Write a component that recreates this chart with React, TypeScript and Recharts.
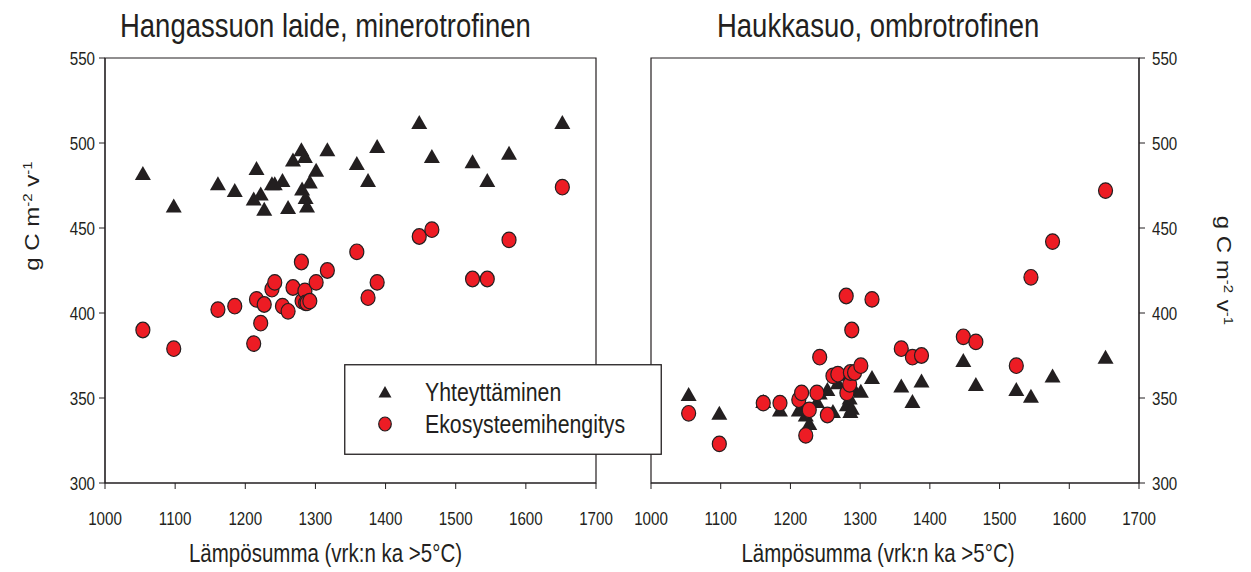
import { ScatterChart, Scatter, XAxis, YAxis, ReferenceArea, Legend } from "recharts";

// temperature sum (degree days > 5 °C), shared by both sites
const heatSum = [
  1054, 1098, 1161, 1185, 1212, 1216, 1222, 1227, 1238, 1242, 1253, 1261, 1268, 1280, 1281,
  1285, 1286, 1288, 1292, 1301, 1317, 1359, 1375, 1388, 1448, 1466, 1524, 1545, 1576, 1652,
];

// Hangassuon laide (minerotrophic)
const hangasGpp = [
  482, 463, 476, 472, 467, 485, 470, 461, 476, 476, 478, 462, 490, 496, 473,
  492, 468, 463, 477, 484, 496, 488, 478, 498, 512, 492, 489, 478, 494, 512,
];
const hangasReco = [
  390, 379, 402, 404, 382, 408, 394, 405, 414, 418, 404, 401, 415, 430, 407,
  413, 406, 406, 407, 418, 425, 436, 409, 418, 445, 449, 420, 420, 443, 474,
];

// Haukkasuo (ombrotrophic)
const haukkaGpp = [
  352, 341, 348, 343, 343, 345, 340, 335, 348, 353, 355, 342, 359, 364, 346,
  350, 342, 344, 355, 354, 362, 357, 348, 360, 372, 358, 355, 351, 363, 374,
];
const haukkaReco = [
  341, 323, 347, 347, 349, 353, 328, 343, 353, 374, 340, 363, 364, 410, 353,
  358, 365, 390, 365, 369, 408, 379, 374, 375, 386, 383, 369, 421, 442, 472,
];

const xTicks = [1000, 1100, 1200, 1300, 1400, 1500, 1600, 1700];
const yTicks = [300, 350, 400, 450, 500, 550];

const seriesNames = ["Yhteyttäminen", "Ekosysteemihengitys"];
const titles = ["Hangassuon laide, minerotrofinen", "Haukkasuo, ombrotrofinen"];
const xLabel = "Lämpösumma (vrk:n ka >5°C)";

const INK = "#231f20";
const RED = "#ed1c24";
const FONT = "'Liberation Sans', Arial, sans-serif";
const SQUEEZE = 0.82; // the original lettering is a condensed face

const toPoints = (ys: number[]) => heatSum.map((x, i) => ({ x, y: ys[i] }));

function Triangle(props: any) {
  const { cx, cy } = props;
  return <path d={`M${cx},${cy - 7.5}L${cx + 8},${cy + 6.5}L${cx - 8},${cy + 6.5}Z`} fill={INK} />;
}

function Dot(props: any) {
  return <ellipse cx={props.cx} cy={props.cy} rx={7} ry={7.8} fill={RED} stroke={INK} strokeWidth={1.2} />;
}

function Tick(props: any) {
  const { x, y, payload, textAnchor, axis } = props;
  return (
    <text
      transform={`translate(${x},${y}) scale(${SQUEEZE},1)`}
      textAnchor={textAnchor}
      dy={axis === "x" ? "0.71em" : "0.36em"}
      fontSize={18.5}
      fill={INK}
      fontFamily={FONT}
    >
      {payload.value}
    </text>
  );
}

function UnitLabel(props: any) {
  const { viewBox, side } = props;
  const { x, y, width, height } = viewBox;
  const left = side === "left";
  const bx = left ? x + 39 : x + 78;
  const cy = left ? 216 : y + height / 2;
  return (
    <text
      transform={`translate(${bx},${cy}) scale(${SQUEEZE},1) rotate(${left ? -90 : 90})`}
      textAnchor="middle"
      fontSize={24}
      fill={INK}
      fontFamily={FONT}
    >
      g C m<tspan dy={-9} fontSize={15}>-2</tspan>
      <tspan dy={9}> v</tspan>
      <tspan dy={-9} fontSize={15}>-1</tspan>
    </text>
  );
}

function XLabel(props: any) {
  const { viewBox, shift } = props;
  const cx = viewBox.x + viewBox.width / 2 + shift;
  return (
    <text
      transform={`translate(${cx},562) scale(${SQUEEZE},1)`}
      textAnchor="middle"
      fontSize={25}
      fill={INK}
      fontFamily={FONT}
    >
      {xLabel}
    </text>
  );
}

function LegendBox(props: any) {
  const payload = [...(props.payload || [])].sort(
    (a: any, b: any) => seriesNames.indexOf(a.value) - seriesNames.indexOf(b.value)
  );
  return (
    <svg width={318} height={91} style={{ display: "block" }}>
      <rect x={0.75} y={0.75} width={316.5} height={89.5} fill="#fff" stroke={INK} strokeWidth={1.3} />
      {payload.map((p: any, i: number) => {
        const cy = 28 + i * 32;
        return (
          <g key={p.value}>
            {p.value === seriesNames[0] ? (
              <path d={`M41,${cy - 6}L47.5,${cy + 5.5}L34.5,${cy + 5.5}Z`} fill={INK} />
            ) : (
              <ellipse cx={41} cy={cy} rx={6.3} ry={7} fill={RED} stroke={INK} strokeWidth={1.2} />
            )}
            <text
              transform={`translate(81,${cy + 9}) scale(${SQUEEZE},1)`}
              fontSize={26}
              fill={INK}
              fontFamily={FONT}
            >
              {p.value}
            </text>
          </g>
        );
      })}
    </svg>
  );
}

const titleStyle = {
  position: "absolute" as const,
  top: 9,
  fontSize: 33.5,
  lineHeight: "33px",
  color: INK,
  whiteSpace: "nowrap" as const,
  transform: `scaleX(${SQUEEZE})`,
  transformOrigin: "0 0",
};

export default function App() {
  return (
    <div style={{ position: "absolute", left: 0, top: 0, width: 1251, height: 572, background: "#fff", fontFamily: FONT }}>
      <div style={{ ...titleStyle, left: 120 }}>{titles[0]}</div>
      <div style={{ ...titleStyle, left: 717 }}>{titles[1]}</div>

      <div style={{ position: "absolute", left: 0, top: 0 }}>
        <ScatterChart width={640} height={572} margin={{ top: 58, right: 44, bottom: 0, left: 0 }}>
          <XAxis
            dataKey="x"
            type="number"
            domain={[1000, 1700]}
            ticks={xTicks}
            height={89}
            stroke={INK}
            tickSize={6}
            tickMargin={23}
            tick={<Tick axis="x" />}
            label={<XLabel shift={-25} />}
          />
          <YAxis
            dataKey="y"
            type="number"
            domain={[300, 550]}
            ticks={yTicks}
            width={105}
            stroke={INK}
            tickSize={6}
            tickMargin={4}
            tick={<Tick axis="y" />}
            label={<UnitLabel side="left" />}
          />
          <ReferenceArea x1={1000} x2={1700} y1={300} y2={550} fill="none" stroke={INK} strokeWidth={1.2} />
          <Scatter name={seriesNames[0]} data={toPoints(hangasGpp)} shape={Triangle} fill={INK} isAnimationActive={false} />
          <Scatter name={seriesNames[1]} data={toPoints(hangasReco)} shape={Dot} fill={RED} isAnimationActive={false} />
          <Legend
            layout="vertical"
            align="center"
            verticalAlign="middle"
            content={<LegendBox />}
            wrapperStyle={{ left: 344, top: 364, width: 318, height: 91, zIndex: 5 }}
          />
        </ScatterChart>
      </div>

      <div style={{ position: "absolute", left: 600, top: 0 }}>
        <ScatterChart width={651} height={572} margin={{ top: 58, right: 0, bottom: 0, left: 51 }}>
          <XAxis
            dataKey="x"
            type="number"
            domain={[1000, 1700]}
            ticks={xTicks}
            height={89}
            stroke={INK}
            tickSize={6}
            tickMargin={23}
            tick={<Tick axis="x" />}
            label={<XLabel shift={-17} />}
          />
          <YAxis
            dataKey="y"
            type="number"
            orientation="right"
            domain={[300, 550]}
            ticks={yTicks}
            width={112}
            stroke={INK}
            tickSize={6}
            tickMargin={7}
            tick={<Tick axis="y" />}
            label={<UnitLabel side="right" />}
          />
          <ReferenceArea x1={1000} x2={1700} y1={300} y2={550} fill="none" stroke={INK} strokeWidth={1.2} />
          <Scatter name={seriesNames[0]} data={toPoints(haukkaGpp)} shape={Triangle} fill={INK} isAnimationActive={false} />
          <Scatter name={seriesNames[1]} data={toPoints(haukkaReco)} shape={Dot} fill={RED} isAnimationActive={false} />
        </ScatterChart>
      </div>
    </div>
  );
}
